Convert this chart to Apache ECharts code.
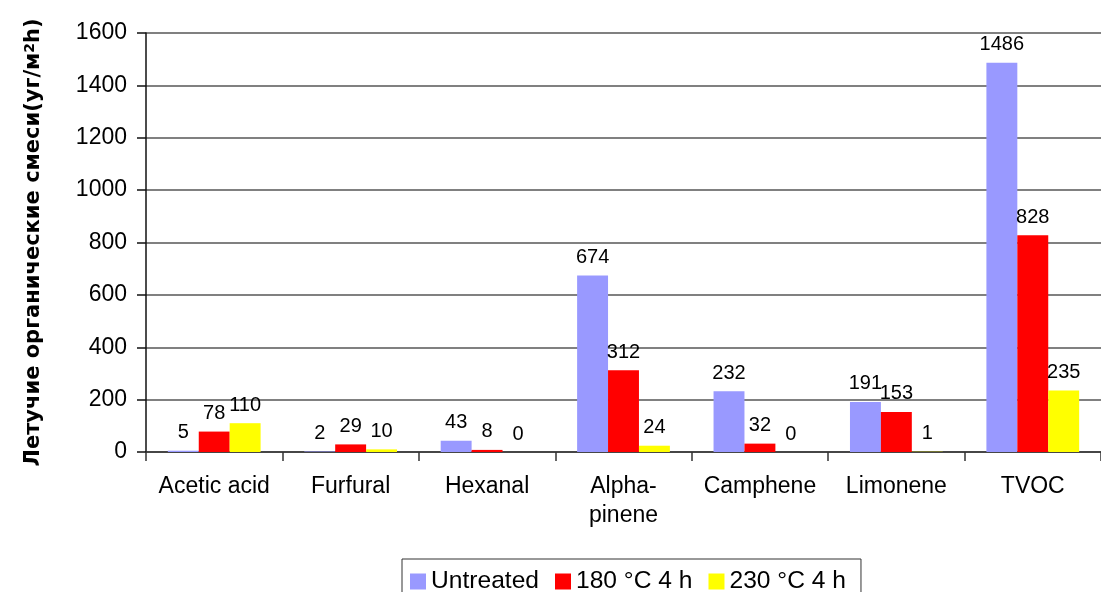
<!DOCTYPE html>
<html>
<head>
<meta charset="utf-8">
<script src="https://cdn.jsdelivr.net/npm/echarts@6/dist/echarts.min.js"></script>
<style>html,body{margin:0;padding:0;background:#fff}#c{width:1101px;height:592px}</style>
</head>
<body>
<div id="c"></div>
<script>
const categories = ['Acetic acid', 'Furfural', 'Hexanal', 'Alpha-\npinene', 'Camphene', 'Limonene', 'TVOC'];
const untreated = [5, 2, 43, 674, 232, 191, 1486];
const t180 = [78, 29, 8, 312, 32, 153, 828];
const t230 = [110, 10, 0, 24, 0, 1, 235];
const seriesNames = ['Untreated', '180 °C 4 h', '230 °C 4 h'];
const yTicks = [0, 1600, 200];

const FONT = '"Liberation Sans", Arial, sans-serif';
const chart = echarts.init(document.getElementById('c'), null, {renderer: 'canvas'});
const lbl = {show: true, position: 'top', distance: 8, color: '#000', fontSize: 20, fontFamily: FONT};
function mk(name, data, color) {
  return {name, type: 'bar', data, barGap: '0%', barCategoryGap: '32%',
    itemStyle: {color}, label: lbl, emphasis: {disabled: true}};
}
chart.setOption({
  animation: false,
  textStyle: {fontFamily: FONT},
  grid: {left: 146, right: -11, top: 33, bottom: 140, containLabel: false},
  legend: {
    left: 402, top: 559, itemWidth: 16, itemHeight: 16, itemGap: 16,
    padding: [10, 15, 10, 8], borderColor: '#333', borderWidth: 1,
    textStyle: {fontSize: 24.6, color: '#000', fontFamily: FONT},
    icon: 'rect', selectedMode: false
  },
  xAxis: {
    type: 'category', data: categories,
    axisLine: {lineStyle: {color: '#333', width: 1.5}},
    axisTick: {show: true, length: 9, lineStyle: {color: '#333', width: 1.5}},
    axisLabel: {fontSize: 23, color: '#000', margin: 20, lineHeight: 29, fontFamily: FONT, interval: 0}
  },
  yAxis: {
    type: 'value', min: yTicks[0], max: yTicks[1], interval: yTicks[2],
    name: 'Летучие органические смеси(уг/м{sup|2}h)', nameLocation: 'middle', nameGap: 101,
    nameTextStyle: {fontSize: 21, fontWeight: 'bold', color: '#000', fontFamily: '"DejaVu Sans", Verdana, sans-serif',
      rich: {sup: {fontSize: 14, fontWeight: 'bold', fontFamily: '"DejaVu Sans", Verdana, sans-serif', verticalAlign: 'top', padding: [0, 0, 8, 0]}}},
    axisLine: {show: true, lineStyle: {color: '#111', width: 1.5}},
    axisTick: {show: true, length: 9, lineStyle: {color: '#111', width: 1.5}},
    axisLabel: {fontSize: 23, color: '#000', margin: 19, fontFamily: FONT, formatter: v => String(v)},
    splitLine: {lineStyle: {color: '#808080', width: 2}}
  },
  series: [
    mk(seriesNames[0], untreated, '#9999FF'),
    mk(seriesNames[1], t180, '#FF0000'),
    mk(seriesNames[2], t230, '#FFFF00')
  ]
});
</script>
</body>
</html>
